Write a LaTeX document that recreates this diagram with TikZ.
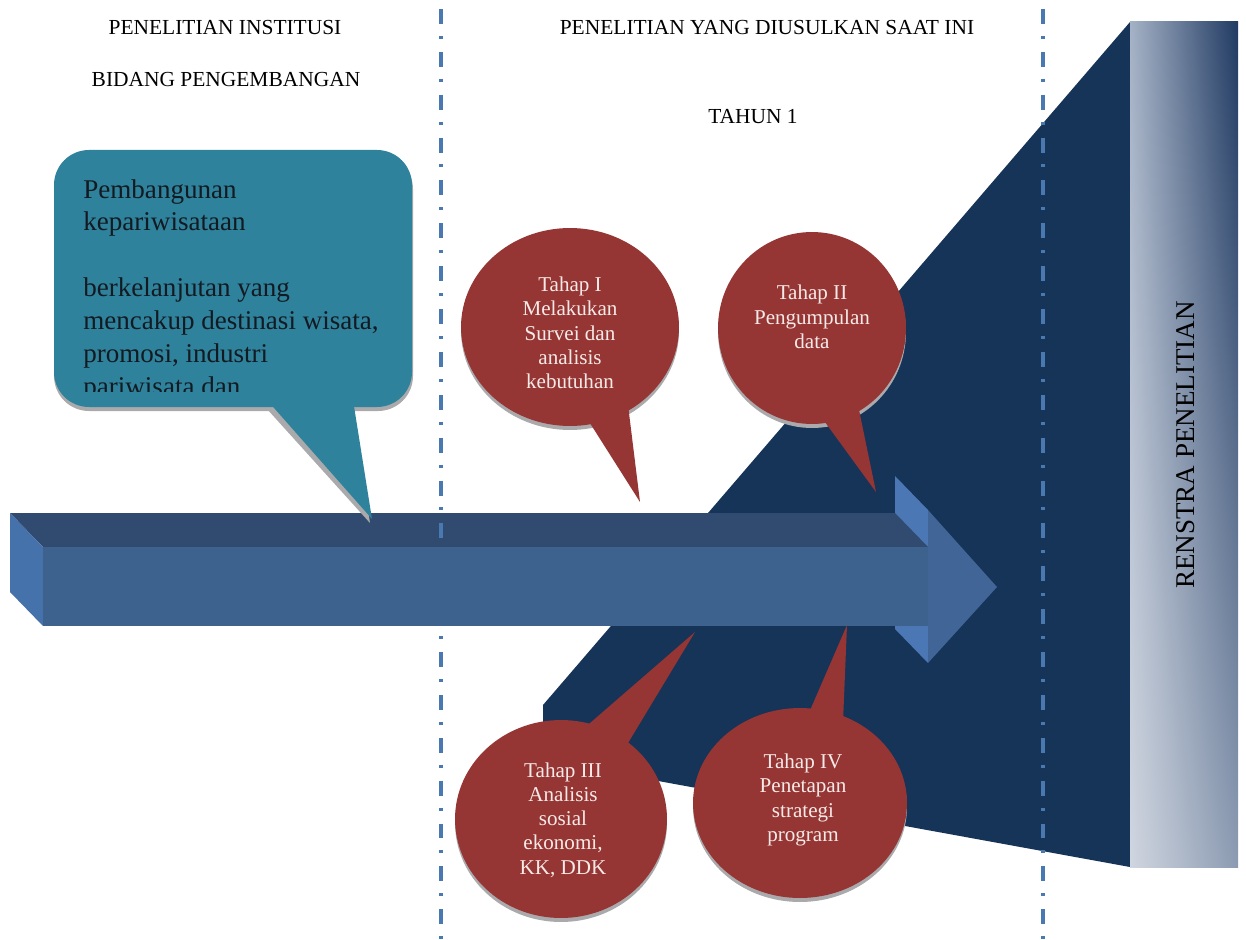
\documentclass[tikz,border=0pt]{standalone}
\usepackage{fontspec}
\setmainfont{Liberation Serif}
\usetikzlibrary{shadings}
\definecolor{navy}{RGB}{22,51,88}
\definecolor{arrtop}{RGB}{48,74,112}
\definecolor{arrfront}{RGB}{62,98,142}
\definecolor{arrleft}{RGB}{70,114,172}
\definecolor{headfront}{RGB}{64,101,150}
\definecolor{headside}{RGB}{75,120,180}
\definecolor{tealc}{RGB}{46,130,155}
\definecolor{bubblered}{RGB}{150,54,52}
\definecolor{bubbletext}{RGB}{246,234,232}
\definecolor{shadowgray}{RGB}{170,170,172}
\definecolor{dashblue}{RGB}{74,120,176}
\definecolor{calltext}{RGB}{20,26,34}
\definecolor{barUL}{RGB}{165,178,198}
\definecolor{barUR}{RGB}{32,58,98}
\definecolor{barLL}{RGB}{208,214,224}
\definecolor{barLR}{RGB}{140,155,178}
\begin{document}
\begin{tikzpicture}[x=0.02cm,y=-0.02cm,
  sepline/.style={draw=dashblue,line width=2.2pt,dash pattern=on 8.5pt off 6.8pt on 1.7pt off 7.4pt},
  headtext/.style={font=\fontsize{12.2}{14}\selectfont,text=black,anchor=base,inner sep=0},
  bubble/.style={fill=bubblered},
  bshadow/.style={fill=shadowgray},
  btext/.style={text=bubbletext,align=center,font=\fontsize{12}{13.8}\selectfont,inner sep=0}]
\useasboundingbox (0,0) rectangle (1246,939);
% dark perspective plane
\fill[navy] (1130,22) -- (543,705) -- (543,760) -- (1130,867) -- cycle;
% gradient bar
\shade[upper left=barUL,upper right=barUR,lower left=barLL,lower right=barLR] (1130,22) rectangle (1238,867);
\node[rotate=90,font=\fontsize{15.4}{18}\selectfont,inner sep=0] (renstra) at (1186,445) {RENSTRA PENELITIAN};
% header texts
\node[headtext] (h1) at (225,35) {PENELITIAN INSTITUSI};
\node[headtext] (h2) at (226,87) {BIDANG PENGEMBANGAN};
\node[headtext] (h3) at (767,35) {PENELITIAN YANG DIUSULKAN SAAT INI};
\node[headtext] (h4) at (753,124) {TAHUN 1};
% 3D arrow: back parts
\fill[headside] (895,476) -- (928,510) -- (928,663) -- (895,629) -- cycle;
\fill[arrtop] (10,513) -- (895,513) -- (928,547) -- (43,547) -- cycle;
\fill[arrleft] (10,513) -- (43,547) -- (43,626) -- (10,592) -- cycle;
% separator lines
\coordinate (s1a) at (441,9); \coordinate (s1b) at (441,939);
\coordinate (s2a) at (1043,9); \coordinate (s2b) at (1043,939);
\draw[sepline] (s1a) -- (s1b);
\draw[sepline] (s2a) -- (s2b);
% arrow front
\fill[arrfront] (43,547) rectangle (929,626);
\fill[headfront] (928,510) -- (997,587) -- (928,663) -- cycle;
% teal callout
\fill[shadowgray,rounded corners=0.7cm] (54,154) rectangle (413,411);
\fill[shadowgray] (267,409) -- (353,409) -- (370,523) -- cycle;
\fill[tealc,rounded corners=0.7cm] (54,150) rectangle (412,407);
\fill[tealc] (267,400) -- (353,400) -- (372,519) -- cycle;
\begin{scope}
\clip (54,150) rectangle (412,391);
\node[anchor=north west,inner sep=0,align=left,text=calltext,font=\fontsize{15.4}{18.7}\selectfont] (callout) at (83,179)
 {Pembangunan\\kepariwisataan\\[18.7pt]berkelanjutan yang\\mencakup destinasi wisata,\\promosi, industri\\pariwisata dan};
\end{scope}
% bubbles: shadows
\begin{scope}[shift={(0,4)}]
\fill[bshadow] (570,327) ellipse [x radius=2.18cm,y radius=1.98cm];
\fill[bshadow] (812,328) ellipse [x radius=1.88cm,y radius=1.92cm];
\fill[bshadow] (561,819) ellipse [x radius=2.12cm,y radius=1.98cm];
\fill[bshadow] (800,803) ellipse [x radius=2.14cm,y radius=1.90cm];
\end{scope}
% bubbles
\fill[bubble] (570,327) ellipse [x radius=2.18cm,y radius=1.98cm];
\fill[bubble] (588,420) -- (628,405) -- (640,502) -- cycle;
\fill[bubble] (812,328) ellipse [x radius=1.88cm,y radius=1.92cm];
\fill[bubble] (822,418) -- (858,405) -- (876,492) -- cycle;
\fill[bubble] (561,819) ellipse [x radius=2.12cm,y radius=1.98cm];
\fill[bubble] (582,730) -- (625,748) -- (695,632) -- cycle;
\fill[bubble] (800,803) ellipse [x radius=2.14cm,y radius=1.90cm];
\fill[bubble] (808,715) -- (843,722) -- (847,625) -- cycle;
\node[btext] (t1) at (570,333) {Tahap I\\Melakukan\\Survei dan\\analisis\\kebutuhan};
\node[btext] (t2) at (812,317) {Tahap II\\Pengumpulan\\data};
\node[btext] (t3) at (563,820) {Tahap III\\Analisis\\sosial\\ekonomi,\\KK, DDK};
\node[btext] (t4) at (803,800) {Tahap IV\\Penetapan\\strategi\\program};
\end{tikzpicture}
\end{document}
